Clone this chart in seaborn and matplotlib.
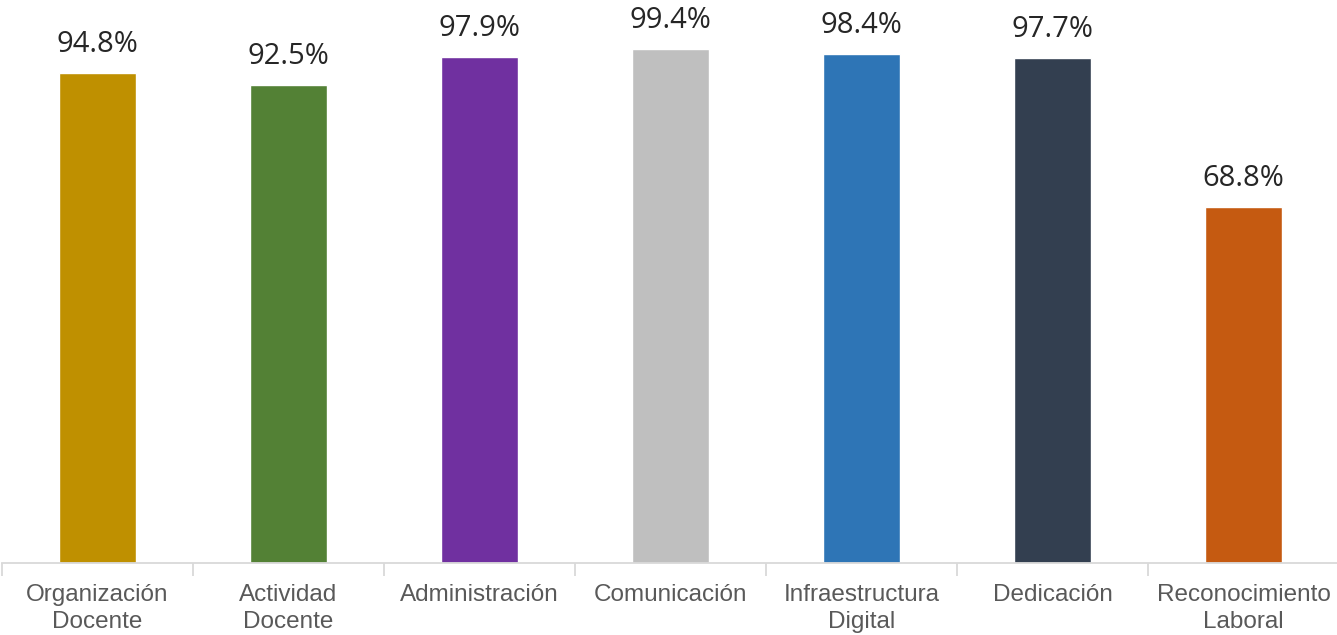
import matplotlib
matplotlib.use("Agg")
import matplotlib.pyplot as plt
import seaborn as sns
import pandas as pd
import numpy as np

categorias = ["Organización\nDocente", "Actividad\nDocente", "Administración",
              "Comunicación", "Infraestructura\nDigital", "Dedicación",
              "Reconocimiento\nLaboral"]
porcentajes = [94.8, 92.5, 97.9, 99.4, 98.4, 97.7, 68.8]
colores = ["#BF9000", "#538135", "#7030A0", "#BFBFBF", "#2E75B6", "#333F50", "#C55A11"]

df = pd.DataFrame({"cat": categorias, "pct": porcentajes})

sns.set_style("white")

fig = plt.figure(figsize=(13.37, 6.35), dpi=100)
ax = fig.add_axes([2 / 1337, 72 / 635, 1337 / 1337, 563 / 635])

sns.barplot(data=df, x="cat", y="pct", hue="cat", palette=colores,
            width=0.4, legend=False, saturation=1, ax=ax)

for cont in ax.containers:
    ax.bar_label(cont, fmt="%.1f%%", padding=10, fontsize=21,
                 family="Open Sans", color="#262626")

ax.set_ylim(0, 108.9)
ax.set_xlim(-0.5, 6.5)
ax.set_xlabel("")
ax.set_ylabel("")
ax.set_yticks([])

ax.set_xticks(range(len(categorias)))
ax.set_xticklabels(categorias, fontsize=17.5, family="Liberation Sans",
                   fontstretch="normal", color="#595959", linespacing=1.3)
ax.tick_params(axis="x", which="major", length=0, pad=15)
ax.set_xticks(np.arange(-0.5, 7, 1), minor=True)
ax.tick_params(axis="x", which="minor", bottom=True, length=9, width=1.3,
               color="#D9D9D9", direction="out")

for s in ["top", "right", "left"]:
    ax.spines[s].set_visible(False)
ax.spines["bottom"].set_color("#D9D9D9")
ax.spines["bottom"].set_linewidth(1.3)

fig.savefig("out.png", dpi=100)
